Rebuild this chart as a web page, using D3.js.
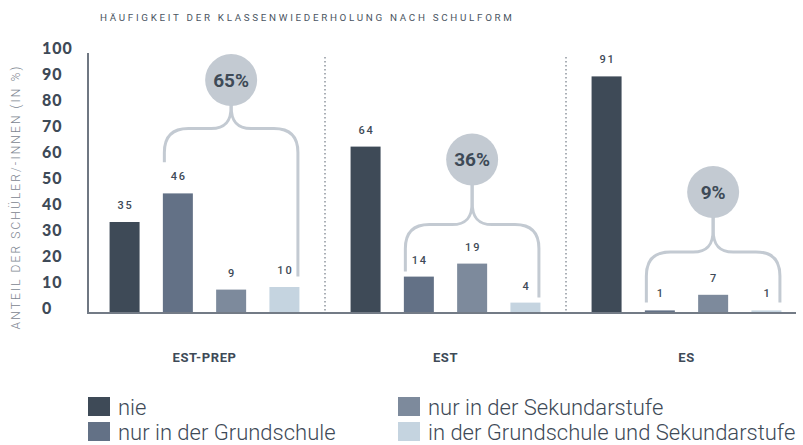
<!DOCTYPE html>
<html><head><meta charset="utf-8">
<script src="https://cdn.jsdelivr.net/npm/d3@7"></script>
<style>
html,body{margin:0;padding:0;background:#fff;}
svg{display:block;}
</style></head>
<body>
<svg id="chart" width="803" height="445"></svg>
<script>
// ---- data ----
const groups = ["EST-PREP", "EST", "ES"];
const series = ["nie", "nur in der Grundschule", "nur in der Sekundarstufe", "in der Grundschule und Sekundarstufe"];
const valuesNie = [35, 64, 91];
const valuesGrund = [46, 14, 1];
const valuesSek = [9, 19, 7];
const valuesBeide = [10, 4, 1];
const yTicks = [0, 10, 20, 30, 40, 50, 60, 70, 80, 90, 100];
const sumLabels = ["65%", "36%", "9%"];
const title = "HÄUFIGKEIT DER KLASSENWIEDERHOLUNG NACH SCHULFORM";
const yTitle = "ANTEIL DER SCHÜLER/-INNEN (IN %)";

// annotation placement (in value units)
const annoCircle = [89.6, 59, 46.5];
const annoLevel = [71, 34, 23.5];
const annoLegEnds = [[58, 14], [16, 6], [4, 4]];

const colors = ["#3e4a57", "#637186", "#7d8a9c", "#c5d4e0"];
const bracketColor = "#c3cad2";
const textDark = "#3e4a57";

const allValues = [valuesNie, valuesGrund, valuesSek, valuesBeide];

const svg = d3.select("#chart");
const y = d3.scaleLinear().domain([0, 100]).range([313, 53]);
const x0 = d3.scaleBand().domain(groups).range([84, 807]);
const x1 = d3.scaleBand().domain(series).range([0, x0.bandwidth()]).paddingInner(0.437).paddingOuter(0.48);

// title
svg.append("text").attr("x", 100).attr("y", 21).text(title)
  .attr("font-family", "Roboto, sans-serif").attr("font-size", 9.8).attr("letter-spacing", 2.7)
  .attr("fill", "#4a5562");

// y title
svg.append("text").attr("transform", "translate(20,197) rotate(-90)")
  .attr("text-anchor", "middle").text(yTitle)
  .attr("font-family", "Roboto, sans-serif").attr("font-weight", 300).attr("font-size", 12)
  .attr("letter-spacing", 2.1).attr("fill", "#7c8590");

// y tick labels
svg.append("g").selectAll("text").data(yTicks).join("text")
  .attr("x", 42).attr("y", d => y(d) + 1)
  .text(d => d)
  .attr("font-family", "Lato, sans-serif").attr("font-weight", 900).attr("font-size", 16)
  .attr("letter-spacing", 1).attr("fill", textDark);

// separators
svg.append("g").selectAll("line").data(groups.slice(1)).join("line")
  .attr("x1", d => x0(d)).attr("x2", d => x0(d))
  .attr("y1", 57).attr("y2", 313)
  .attr("stroke", "#8e959e").attr("stroke-width", 1.5).attr("stroke-dasharray", "1.5,2.5");

// bars
const barData = [];
groups.forEach((g, gi) => series.forEach((s, si) => barData.push({g, s, si, v: allValues[si][gi]})));
svg.append("g").selectAll("rect").data(barData).join("rect")
  .attr("x", d => x0(d.g) + x1(d.s)).attr("width", x1.bandwidth())
  .attr("y", d => y(d.v)).attr("height", d => y(0) - y(d.v))
  .attr("fill", d => colors[d.si]);

// value labels
svg.append("g").selectAll("text").data(barData).join("text")
  .attr("x", d => x0(d.g) + x1(d.s) + x1.bandwidth() / 2 + 1)
  .attr("y", d => y(d.v) - 13)
  .attr("text-anchor", "middle").text(d => d.v)
  .attr("font-family", "Roboto, sans-serif").attr("font-weight", 500).attr("font-size", 11)
  .attr("letter-spacing", 1.8).attr("fill", textDark);

// axes lines
svg.append("line").attr("x1", 88).attr("x2", 88).attr("y1", 53).attr("y2", 313)
  .attr("stroke", "#6f7782").attr("stroke-width", 2);
svg.append("line").attr("x1", 87).attr("x2", 796).attr("y1", 313).attr("y2", 313)
  .attr("stroke", "#737b86").attr("stroke-width", 2);

// brackets
const rc = 26, r = 24;
groups.forEach((g, gi) => {
  const lx = x0(g) + x1(series[1]) + 1.5;
  const rx = x0(g) + x1(series[3]) + x1.bandwidth() - 1.5;
  const cx = (lx + rx) / 2;
  const cy = y(annoCircle[gi]);
  const hy = y(annoLevel[gi]);
  const le = y(annoLegEnds[gi][0]);
  const re = y(annoLegEnds[gi][1]);
  const stemTop = cy + rc - 2;
  const curveTop = Math.max(stemTop, hy - 22);
  const half = (sx, ey, dir) => {
    const p = d3.path();
    p.moveTo(sx, ey);
    p.lineTo(sx, hy + r);
    p.quadraticCurveTo(sx, hy, sx + dir * r, hy);
    p.lineTo(cx - dir * 20, hy);
    p.bezierCurveTo(cx - dir * 5, hy, cx, hy - 8, cx, curveTop);
    p.lineTo(cx, stemTop);
    return p.toString();
  };
  [half(lx, le, 1), half(rx, re, -1)].forEach(dp => {
    svg.append("path").attr("d", dp).attr("fill", "none")
      .attr("stroke", bracketColor).attr("stroke-width", 3);
  });
  svg.append("circle").attr("cx", cx).attr("cy", cy).attr("r", rc).attr("fill", bracketColor);
  svg.append("text").attr("x", cx).attr("y", cy + 6.5).attr("text-anchor", "middle")
    .text(sumLabels[gi])
    .attr("font-family", "Roboto, sans-serif").attr("font-weight", 700).attr("font-size", 19)
    .attr("fill", textDark);
});

// group labels
svg.append("g").selectAll("text").data(groups).join("text")
  .attr("x", d => x0(d) + x0.bandwidth() / 2).attr("y", 362)
  .attr("text-anchor", "middle").text(d => d)
  .attr("font-family", "Roboto, sans-serif").attr("font-weight", 700).attr("font-size", 13)
  .attr("letter-spacing", 0.6).attr("fill", textDark);

// legend
const legPos = [[88, 397], [88, 422], [398, 397], [398, 422]];
const leg = svg.append("g").selectAll("g").data(series).join("g")
  .attr("transform", (d, i) => `translate(${legPos[i][0]},${legPos[i][1]})`);
leg.append("rect").attr("width", 22).attr("height", 19).attr("fill", (d, i) => colors[i]);
leg.append("text").attr("x", 30).attr("y", 18).text(d => d)
  .attr("font-family", "Roboto, sans-serif").attr("font-weight", 300).attr("font-size", 22)
  .attr("fill", textDark);
</script>
</body></html>
